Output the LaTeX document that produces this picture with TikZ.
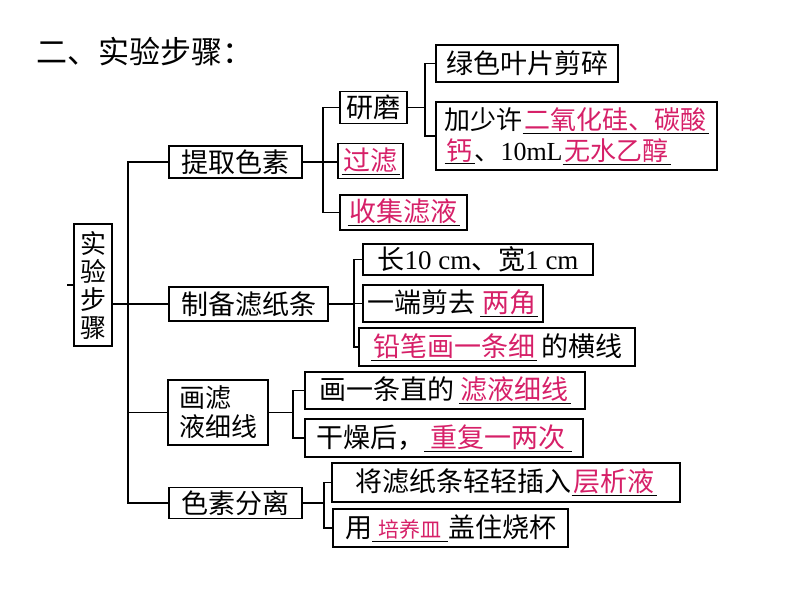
\documentclass[tikz,border=0pt]{standalone}
\usepackage{fontspec}
\setmainfont{Noto Sans CJK SC}
\newfontfamily\latfont{Liberation Serif}
\definecolor{keyred}{RGB}{214,32,104}
\newcommand{\lat}[1]{{\latfont #1}}
\newcommand{\hl}[1]{\underline{\hspace{2pt}\textcolor{keyred}{#1}\hspace{2pt}}}
\tikzset{
  box/.style={draw, line width=1.2pt, inner sep=0pt, font=\fontsize{27}{31}\selectfont},
  link/.style={line width=1.2pt},
}
\begin{document}
\begin{tikzpicture}[x=1pt,y=-1pt]
	\useasboundingbox (0,0) rectangle (800,600);
	\node[anchor=west, font=\fontsize{31}{34}\selectfont] (title) at (33,52) {二、实验步骤：};
	% root and first level
	\node[box, minimum width=38pt, minimum height=122pt, align=center, font=\fontsize{26}{28}\selectfont] (root) at (93,285) {实\\验\\步\\骤};
	\coordinate (tick) at (67,285);
	\node[box, minimum width=133pt, minimum height=32pt] (tiqu) at (235.5,162) {提取色素};
	\node[box, minimum width=159pt, minimum height=34pt] (prep) at (248.5,304) {制备滤纸条};
	\node[box, minimum width=100pt, minimum height=65pt, align=left, font=\fontsize{26}{29}\selectfont] (hua) at (218,412.5) {画滤\\液细线};
	\node[box, minimum width=133pt, minimum height=31pt] (fenli) at (235.5,503) {色素分离};
	% second level
	\node[box, minimum width=67pt, minimum height=32pt] (yanmo) at (373.5,107.5) {研磨};
	\node[box, minimum width=65pt, minimum height=35pt] (guolv) at (370.5,161) {\hl{过滤}};
	\node[box, minimum width=127pt, minimum height=35pt] (shouji) at (403.5,212.5) {\hl{收集滤液}};
	\node[box, minimum width=182pt, minimum height=37pt] (suici) at (527,63.5) {绿色叶片剪碎};
	\node[box, minimum width=281pt, minimum height=68pt, align=left, font=\fontsize{26}{31}\selectfont] (jia) at (576.5,136) {加少许\hl{二氧化硅、碳酸}\\\hl{钙}、\lat{10mL}\hl{无水乙醇}};
	\node[box, minimum width=230pt, minimum height=31pt] (chang) at (478,259.5) {长\lat{10 cm}、宽\lat{1 cm}};
	\node[box, minimum width=180pt, minimum height=37pt] (jian) at (453,303.5) {一端剪去\,\hl{两角}};
	\node[box, minimum width=276pt, minimum height=38pt] (qian) at (497,347) {\hl{铅笔画一条细}\,的横线};
	\node[box, minimum width=280pt, minimum height=37pt] (huayi) at (445,390.5) {画一条直的\,\hl{滤液细线}};
	\node[box, minimum width=278pt, minimum height=38pt] (ganzao) at (444,438) {干燥后，\hl{\,重复一两次\,}};
	\node[box, minimum width=348pt, minimum height=39pt] (cha) at (506,482.5) {将滤纸条轻轻插入\hl{层析液}};
	\node[box, minimum width=235pt, minimum height=38pt] (yong) at (450.5,528) {用\hl{\,{\fontsize{21}{25}\selectfont 培养皿}\,}盖住烧杯};
	% spine columns
	\coordinate (c0) at (128,0);
	\coordinate (c1) at (323,0);
	\coordinate (c2) at (425,0);
	\coordinate (c3) at (354,0);
	\coordinate (c4) at (293,0);
	\coordinate (c5) at (324,0);
	% connectors
	\draw[link] (tick) -- (root.west |- tick);
	\draw[link] (tiqu.west) -- (tiqu.west -| c0) -- (fenli.west -| c0) -- (fenli.west);
	\draw[link] (root.east |- prep.west) -- (prep.west);
	\draw[link] (hua.west) -- (hua.west -| c0);
	\draw[link] (tiqu.east) -- (tiqu.east -| guolv.west);
	\draw[link] (yanmo.west) -- (yanmo.west -| c1) -- (shouji.west -| c1) -- (shouji.west);
	\draw[link] (yanmo.east) -- (yanmo.east -| c2);
	\draw[link] (suici.west) -- (suici.west -| c2) -- (jia.west -| c2) -- (jia.west);
	\draw[link] (prep.east) -- (prep.east -| c3);
	\draw[link] (chang.west) -- (chang.west -| c3) -- (qian.west -| c3) -- (qian.west);
	\draw[link] (jian.west -| c3) -- (jian.west);
	\draw[link] (hua.east) -- (hua.east -| c4);
	\draw[link] (huayi.west) -- (huayi.west -| c4) -- (ganzao.west -| c4) -- (ganzao.west);
	\draw[link] (fenli.east) -- (fenli.east -| c5);
	\draw[link] (cha.west) -- (cha.west -| c5) -- (yong.west -| c5) -- (yong.west);
\end{tikzpicture}
\end{document}
